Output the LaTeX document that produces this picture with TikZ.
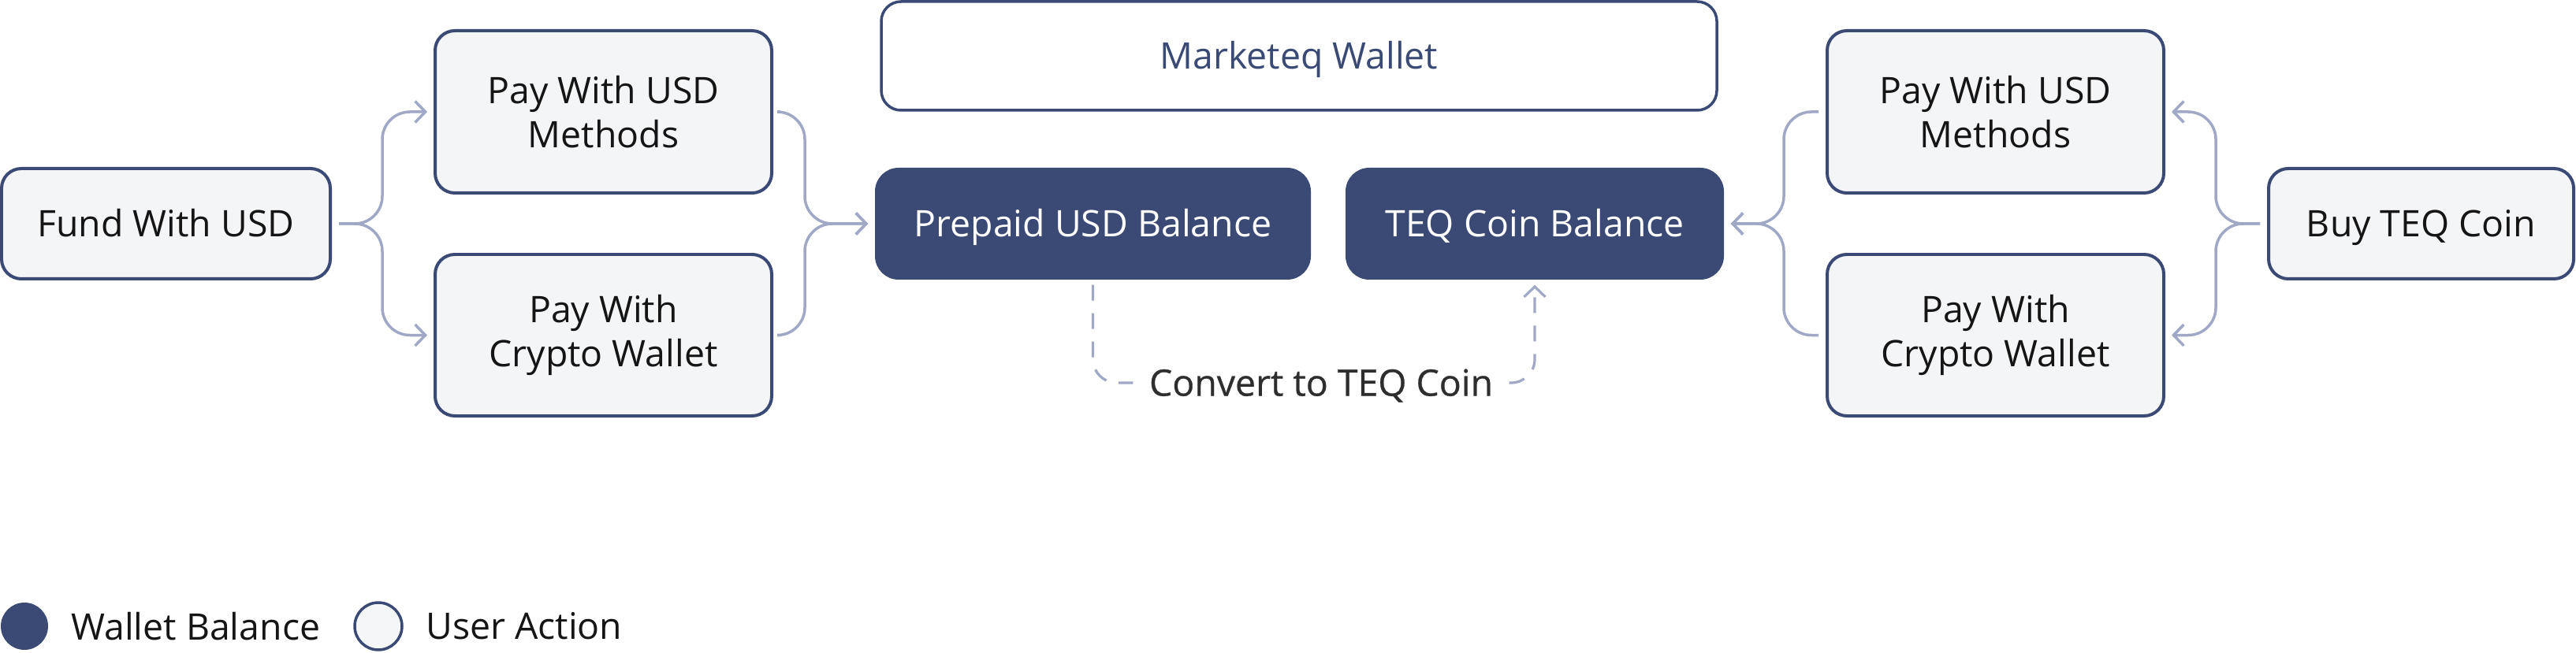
\documentclass[tikz,border=0pt]{standalone}
\usepackage{fontspec}
\setmainfont{Open Sans}
\newfontfamily\mediumface{Open Sans}[FakeBold=0.6]
\usetikzlibrary{arrows.meta, positioning, calc}
\definecolor{navy}{HTML}{3B4A74}
\definecolor{lightbg}{HTML}{F4F5F7}
\definecolor{flow}{HTML}{A0A8C6}
\definecolor{ink}{HTML}{151515}
\definecolor{softink}{HTML}{2E2E2E}
\newcommand{\boxfont}{\fontsize{13.2}{16}\selectfont}
\tikzset{
  action/.style={rectangle, rounded corners=0.25cm, draw=navy, fill=lightbg,
                 line width=0.04cm, minimum width=#1, align=center,
                 font=\boxfont, text=ink},
  action/.default=4.27cm,
  oneline/.style={text height=0.33cm, text depth=0pt},
  balance/.style={rectangle, rounded corners=0.3cm, fill=navy, text=white,
                  minimum width=#1, minimum height=1.42cm, align=center,
                  font=\boxfont, oneline},
  balance/.default=5cm,
  walletbox/.style={rectangle, rounded corners=0.25cm, draw=navy, fill=white,
                    line width=0.035cm, minimum width=10.6cm, minimum height=1.38cm,
                    font=\boxfont, text=navy, oneline},
  arr/.style={-{Straight Barb[length=0.13cm, width=0.27cm, line width=0.035cm]},
              line width=0.035cm, draw=#1, rounded corners=0.35cm,
              shorten <=0.09cm, shorten >=0.08cm},
  arr/.default=flow,
  dasharr/.style={line width=0.032cm, draw=flow, dash pattern=on 0.2cm off 0.16cm,
                  rounded corners=0.3cm},
  legdot/.style={circle, minimum size=0.6cm, inner sep=0pt, line width=0.035cm},
  legtxt/.style={anchor=west, font=\boxfont, text=ink},
}
\begin{document}
\begin{tikzpicture}
  \useasboundingbox (0,0) rectangle (32.68,8.28);

  % wallet frame and balances
  \node[walletbox] (wallet) at (16.48, 7.57) {Marketeq Wallet};
  \node[balance=5.53cm] (prepaid) at (13.865, 5.44) {Prepaid USD Balance};
  \node[balance=4.80cm] (teq) at (19.47, 5.44) {TEQ Coin Balance};

  % left side: funding with USD
  \node[action=4.17cm, minimum height=1.40cm, oneline] (fund) at (2.105, 5.44) {Fund With USD};
  \node[action, minimum height=2.06cm] (usdL) at (7.655, 6.86) {Pay With USD\\Methods};
  \node[action, minimum height=2.05cm] (cryptoL) at (7.655, 4.025) {Pay With\\Crypto Wallet};

  % right side: buying TEQ
  \node[action, minimum height=2.06cm] (usdR) at (25.315, 6.86) {Pay With USD\\Methods};
  \node[action, minimum height=2.05cm] (cryptoR) at (25.315, 4.025) {Pay With\\Crypto Wallet};
  \node[action=3.87cm, minimum height=1.40cm, oneline] (buy) at (30.715, 5.44) {Buy TEQ Coin};

  \coordinate (splitL) at (4.85, 5.44);
  \coordinate (mergeL) at (10.21, 5.44);
  \coordinate (splitR) at (28.11, 5.44);
  \coordinate (mergeR) at (22.63, 5.44);

  \draw[arr] (fund.east) -- (splitL) |- (usdL.west);
  \draw[arr] (fund.east) -- (splitL) |- (cryptoL.west);
  \draw[arr] (usdL.east) -| (mergeL) -- (prepaid.west);
  \draw[arr] (cryptoL.east) -| (mergeL) -- (prepaid.west);

  \draw[arr] (buy.west) -- (splitR) |- (usdR.east);
  \draw[arr] (buy.west) -- (splitR) |- (cryptoR.east);
  \draw[arr] (usdR.west) -| (mergeR) -- (teq.east);
  \draw[arr] (cryptoR.west) -| (mergeR) -- (teq.east);

  % conversion
  \node[font=\boxfont\mediumface, text=softink, inner sep=0.2cm, oneline] (convert) at (16.76, 3.42) {Convert to TEQ Coin};
  \draw[dasharr, shorten <=0.06cm] (prepaid.south) |- (convert.west);
  \draw[dasharr, -{Straight Barb[length=0.13cm, width=0.27cm, line width=0.032cm]},
        shorten >=0.06cm] (convert.east) -| (teq.south);

  % legend
  \node[legdot, fill=navy] (legBal) at (0.31, 0.33) {};
  \node[legtxt] (legBalTxt) at (0.78, 0.33) {Wallet Balance};
  \node[legdot, draw=navy, fill=lightbg!80!navy!20] (legAct) at (4.80, 0.33) {};
  \node[legtxt] (legActTxt) at (5.28, 0.33) {User Action};
\end{tikzpicture}
\end{document}
